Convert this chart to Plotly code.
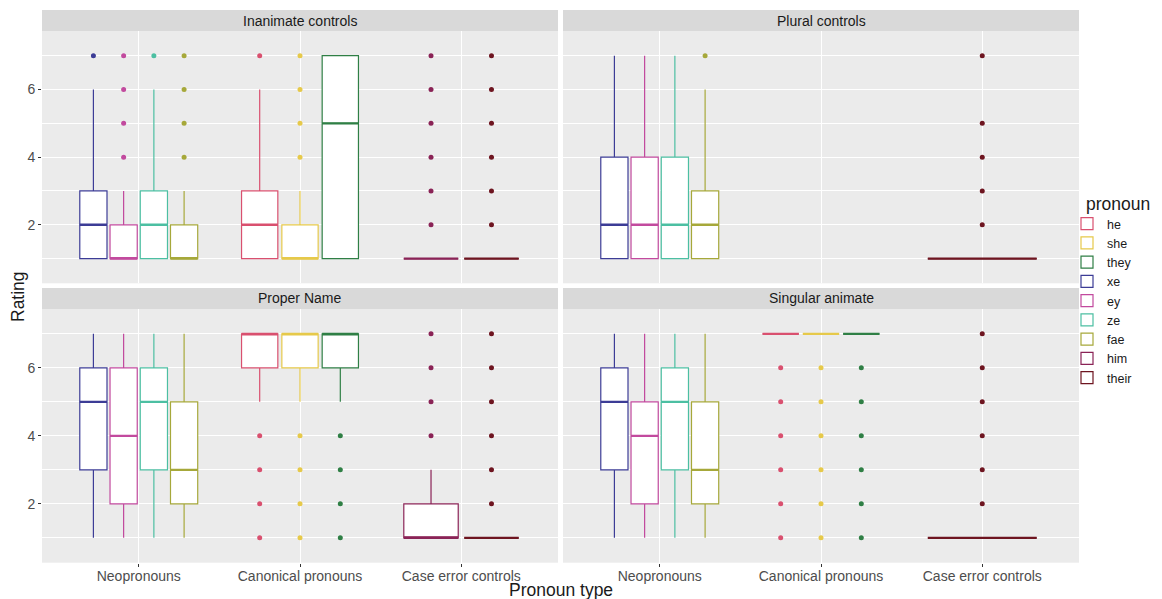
import plotly.graph_objects as go

# ---------------- data ----------------
panels = ["Inanimate controls", "Plural controls", "Proper Name", "Singular animate"]
types = ["Neopronouns", "Canonical pronouns", "Case error controls"]
pronouns = ["he", "she", "they", "xe", "ey", "ze", "fae", "him", "their"]
pronoun_colors = ["#D9506F", "#E6C94A", "#2F7F45", "#3C3C96", "#C24A9E",
                  "#4CBFA2", "#A6A83A", "#8A2356", "#6E1520"]

# one entry per box
box_panel = [0, 0, 0, 0, 0, 0, 0, 0, 0,
             1, 1, 1, 1, 1,
             2, 2, 2, 2, 2, 2, 2, 2, 2,
             3, 3, 3, 3, 3, 3, 3, 3]
box_type = [0, 0, 0, 0, 1, 1, 1, 2, 2,
            0, 0, 0, 0, 2,
            0, 0, 0, 0, 1, 1, 1, 2, 2,
            0, 0, 0, 0, 1, 1, 1, 2]
box_pronoun = ["xe", "ey", "ze", "fae", "he", "she", "they", "him", "their",
               "xe", "ey", "ze", "fae", "their",
               "xe", "ey", "ze", "fae", "he", "she", "they", "him", "their",
               "xe", "ey", "ze", "fae", "he", "she", "they", "their"]
box_low = [1, 1, 1, 1, 1, 1, 1, 1, 1,
           1, 1, 1, 1, 1,
           1, 1, 1, 1, 5, 5, 5, 1, 1,
           1, 1, 1, 1, 7, 7, 7, 1]
box_q1 = [1, 1, 1, 1, 1, 1, 1, 1, 1,
          1, 1, 1, 1, 1,
          3, 2, 3, 2, 6, 6, 6, 1, 1,
          3, 2, 3, 2, 7, 7, 7, 1]
box_med = [2, 1, 2, 1, 2, 1, 5, 1, 1,
           2, 2, 2, 2, 1,
           5, 4, 5, 3, 7, 7, 7, 1, 1,
           5, 4, 5, 3, 7, 7, 7, 1]
box_q3 = [3, 2, 3, 2, 3, 2, 7, 1, 1,
          4, 4, 4, 3, 1,
          6, 6, 6, 5, 7, 7, 7, 2, 1,
          6, 5, 6, 5, 7, 7, 7, 1]
box_high = [6, 3, 6, 3, 6, 3, 7, 1, 1,
            7, 7, 7, 6, 1,
            7, 7, 7, 7, 7, 7, 7, 3, 1,
            7, 7, 7, 7, 7, 7, 7, 1]
box_outliers = [[7], [4, 5, 6, 7], [7], [4, 5, 6, 7], [7], [4, 5, 6, 7], [],
                [2, 3, 4, 5, 6, 7], [2, 3, 4, 5, 6, 7],
                [], [], [], [7], [2, 3, 4, 5, 7],
                [], [], [], [], [1, 2, 3, 4], [1, 2, 3, 4], [1, 2, 3, 4],
                [4, 5, 6, 7], [2, 3, 4, 5, 6, 7],
                [], [], [], [], [1, 2, 3, 4, 5, 6], [1, 2, 3, 4, 5, 6],
                [1, 2, 3, 4, 5, 6], [2, 3, 4, 5, 6, 7]]

y_ticks = [2, 4, 6]
y_minor = [1, 3, 5, 7]

# ---------------- layout geometry ----------------
OFF = 8  # browser default body margin
W, H = 1162 - OFF, 599 - OFF
col_x = [(42, 558), (563, 1079)]
row_y = [(31, 283.3), (309, 562.7)]
strip_h = 21
DODGE = 0.75
FONT = "Liberation Sans, Arial, Helvetica, sans-serif"


def px(x):
    return (x - OFF) / W


def py(y):
    return 1 - (y - OFF) / H


color_of = dict(zip(pronouns, pronoun_colors))
fig = go.Figure()

# dodge positions
group_members = {}
for i in range(len(box_panel)):
    group_members.setdefault((box_panel[i], box_type[i]), []).append(i)

shown = set()
for i in range(len(box_panel)):
    p = box_panel[i]
    members = group_members[(p, box_type[i])]
    n = len(members)
    k = members.index(i)
    slot = DODGE / n
    xc = box_type[i] - DODGE / 2 + slot * (k + 0.5)
    wbox = slot * 0.9
    ax = "" if p == 0 else str(p + 1)
    xa, ya = "x" + ax, "y" + ax
    pr = box_pronoun[i]
    col = color_of[pr]
    first = pr not in shown
    shown.add(pr)
    fig.add_trace(go.Box(
        x=[xc], q1=[box_q1[i]], median=[box_med[i]], q3=[box_q3[i]],
        lowerfence=[box_low[i]], upperfence=[box_high[i]],
        width=wbox, whiskerwidth=0, boxpoints=False,
        fillcolor="white", line=dict(color=col, width=1.2),
        name=pr, legendgroup=pr, showlegend=first,
        legendrank=pronouns.index(pr) + 1,
        xaxis=xa, yaxis=ya, hoverinfo="skip"))
    # thicker median line (ggplot fatten)
    fig.add_trace(go.Scatter(
        x=[xc - wbox / 2, xc + wbox / 2], y=[box_med[i], box_med[i]],
        mode="lines", line=dict(color=col, width=2.4),
        showlegend=False, legendgroup=pr, xaxis=xa, yaxis=ya, hoverinfo="skip"))
    if box_outliers[i]:
        fig.add_trace(go.Scatter(
            x=[xc] * len(box_outliers[i]), y=box_outliers[i], mode="markers",
            marker=dict(color=col, size=5), showlegend=False, legendgroup=pr,
            xaxis=xa, yaxis=ya, hoverinfo="skip"))

layout = dict(
    width=W, height=H, margin=dict(l=0, r=0, t=0, b=0, autoexpand=False),
    paper_bgcolor="white", plot_bgcolor="#EBEBEB",
    font=dict(family=FONT, color="#1A1A1A"),
    showlegend=True,
    legend=dict(x=px(1067), y=py(209), xanchor="left", yanchor="top",
                font=dict(size=12.5, color="#1A1A1A"), tracegroupgap=0,
                bgcolor="rgba(0,0,0,0)", itemwidth=30),
)

shapes = []
annotations = []
for p in range(4):
    r, c = divmod(p, 2)
    x0, x1 = col_x[c]
    y0, y1 = row_y[r]
    ax = "" if p == 0 else str(p + 1)
    layout["xaxis" + ax] = dict(
        domain=[px(x0), px(x1)], anchor="y" + ax, range=[-0.6, 2.6],
        tickvals=[0, 1, 2], ticktext=types, showgrid=True, gridcolor="white",
        gridwidth=1.1, zeroline=False, showline=False,
        showticklabels=(r == 1), ticks="outside" if r == 1 else "",
        ticklen=3, tickcolor="#333333", tickfont=dict(size=14, color="#4D4D4D"),
        ticklabelstandoff=-3,
        fixedrange=True)
    layout["yaxis" + ax] = dict(
        domain=[py(y1), py(y0)], anchor="x" + ax, range=[0.27, 7.73],
        tickvals=y_ticks, showgrid=True, gridcolor="white", gridwidth=1.1,
        zeroline=False, showline=False,
        showticklabels=(c == 0), ticks="outside" if c == 0 else "",
        ticklen=3, tickcolor="#333333", tickfont=dict(size=14, color="#4D4D4D"),
        minor=dict(tickvals=y_minor, showgrid=True, gridcolor="white",
                   gridwidth=0.55, ticks=""),
        fixedrange=True)
    shapes.append(dict(type="rect", xref="paper", yref="paper",
                       x0=px(x0), x1=px(x1),
                       y0=py(y0), y1=py(y0 - strip_h),
                       fillcolor="#D9D9D9", line=dict(width=0), layer="below"))
    annotations.append(dict(text=panels[p], xref="paper", yref="paper",
                            x=px((x0 + x1) / 2), y=py(y0 - strip_h / 2),
                            showarrow=False, xanchor="center", yanchor="middle",
                            font=dict(size=14, color="#1A1A1A")))

annotations.append(dict(text="Pronoun type", xref="paper", yref="paper",
                        x=px(560.5), y=py(590), showarrow=False,
                        xanchor="center", yanchor="middle",
                        font=dict(size=17.5, color="#1A1A1A")))
annotations.append(dict(text="Rating", xref="paper", yref="paper",
                        x=px(18), y=py(297), showarrow=False, textangle=-90,
                        xanchor="center", yanchor="middle",
                        font=dict(size=17.5, color="#1A1A1A")))
annotations.append(dict(text="pronoun", xref="paper", yref="paper",
                        x=px(1084), y=py(204), showarrow=False,
                        xanchor="left", yanchor="middle",
                        font=dict(size=17.5, color="#1A1A1A")))
layout["shapes"] = shapes
layout["annotations"] = annotations
fig.update_layout(**layout)

fig.write_html("out.html")
